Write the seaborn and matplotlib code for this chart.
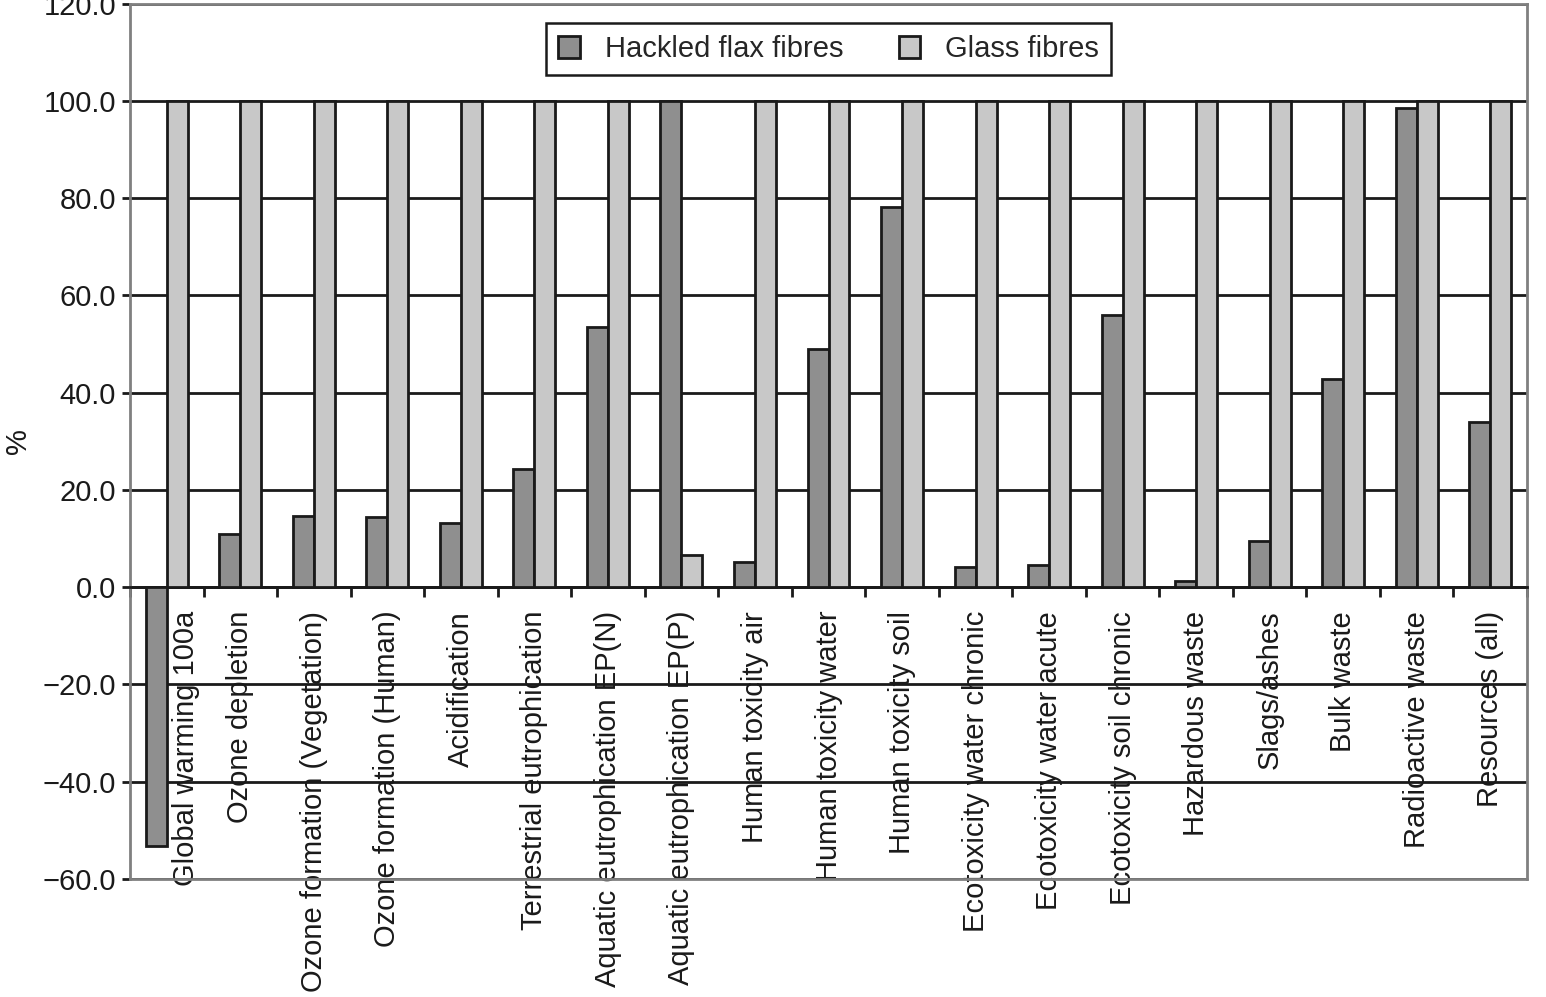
import numpy as np
import pandas as pd
import matplotlib
matplotlib.use('Agg')
import matplotlib.pyplot as plt
import seaborn as sns
from matplotlib.ticker import FuncFormatter, FixedLocator, MultipleLocator
from matplotlib.transforms import ScaledTranslation

# categories and values
categories = ['Global warming 100a', 'Ozone depletion', 'Ozone formation (Vegetation)',
              'Ozone formation (Human)', 'Acidification', 'Terrestrial eutrophication',
              'Aquatic eutrophication EP(N)', 'Aquatic eutrophication EP(P)',
              'Human toxicity air', 'Human toxicity water', 'Human toxicity soil',
              'Ecotoxicity water chronic', 'Ecotoxicity water acute', 'Ecotoxicity soil chronic',
              'Hazardous waste', 'Slags/ashes', 'Bulk waste', 'Radioactive waste', 'Resources (all)']
flax = [-53.3, 10.9, 14.6, 14.4, 13.1, 24.2, 53.4, 100.0, 5.1, 48.9, 78.2,
        4.1, 4.5, 55.9, 1.2, 9.4, 42.9, 98.6, 33.9]
glass = [100.0, 100.0, 100.0, 100.0, 100.0, 100.0, 100.0, 6.6, 100.0, 100.0, 100.0,
         100.0, 100.0, 100.0, 100.0, 100.0, 100.0, 100.0, 100.0]
series_names = ['Hackled flax fibres', 'Glass fibres']
y_ticks = [-60, -40, -20, 0, 20, 40, 60, 80, 100, 120]

df = pd.DataFrame({
    'category': categories * 2,
    'value': flax + glass,
    'series': [series_names[0]] * len(categories) + [series_names[1]] * len(categories),
})

sns.set_style('white')
plt.rcParams['font.family'] = ['Liberation Sans', 'DejaVu Sans']
fs = 21

fig = plt.figure(figsize=(15.46, 9.97), dpi=100)
ax = fig.add_axes([0.0841, 0.1184, 0.9036, 0.878])

sns.barplot(data=df, x='category', y='value', hue='series',
            palette=['#8f8f8f', '#c8c8c8'], width=0.57, saturation=1,
            edgecolor='#1a1a1a', linewidth=2, ax=ax, zorder=3)

ax.set_ylim(-60, 120)
ax.set_xlim(-0.5, len(categories) - 0.5)
ax.yaxis.set_major_locator(FixedLocator(y_ticks))
ax.yaxis.set_major_formatter(FuncFormatter(lambda v, p: f'{v:.1f}'.replace('-', '\u2212')))
ax.yaxis.grid(True, color='#1a1a1a', lw=2)
ax.set_axisbelow(True)

# frame in grey, category axis crossing at zero
for side in ['left', 'right', 'top']:
    ax.spines[side].set_color('#808080')
    ax.spines[side].set_linewidth(2)
ax.spines['bottom'].set_position(('data', 0))
ax.spines['bottom'].set_color('#1a1a1a')
ax.spines['bottom'].set_linewidth(2)
ax.plot([0, 1], [0, 0], transform=ax.transAxes, color='#808080', lw=2, clip_on=False, zorder=4)

ax.xaxis.set_minor_locator(MultipleLocator(1, offset=0.5))
ax.tick_params(axis='x', which='minor', bottom=True, length=7, width=2, color='#1a1a1a')
ax.tick_params(axis='x', which='major', length=0, pad=17, labelsize=fs)
ax.tick_params(axis='y', left=True, length=6, width=2, color='#1a1a1a', labelsize=fs, pad=4)
ax.set_xticks(range(len(categories)))
ax.set_xticklabels(categories, rotation=90, ha='center', va='top', color='#1a1a1a')
for lab in ax.get_yticklabels():
    lab.set_color('#1a1a1a')

# first label sits to the right of the negative bar
first = ax.get_xticklabels()[0]
first.set_transform(first.get_transform() + ScaledTranslation(0.19, 0, fig.dpi_scale_trans))

ax.set_xlabel('')
ax.set_ylabel('%', fontsize=fs, color='#1a1a1a')
ax.yaxis.set_label_coords(-0.0705, 0.5)

leg = ax.legend(loc='upper center', bbox_to_anchor=(0.5, 0.994), ncol=2, fontsize=fs,
                frameon=True, fancybox=False, framealpha=1, edgecolor='#1a1a1a',
                handlelength=0.75, handleheight=0.75, columnspacing=1.9, handletextpad=0.85,
                borderpad=0.4, title=None)
leg.get_frame().set_linewidth(1.8)

fig.savefig('out.png', dpi=100)
